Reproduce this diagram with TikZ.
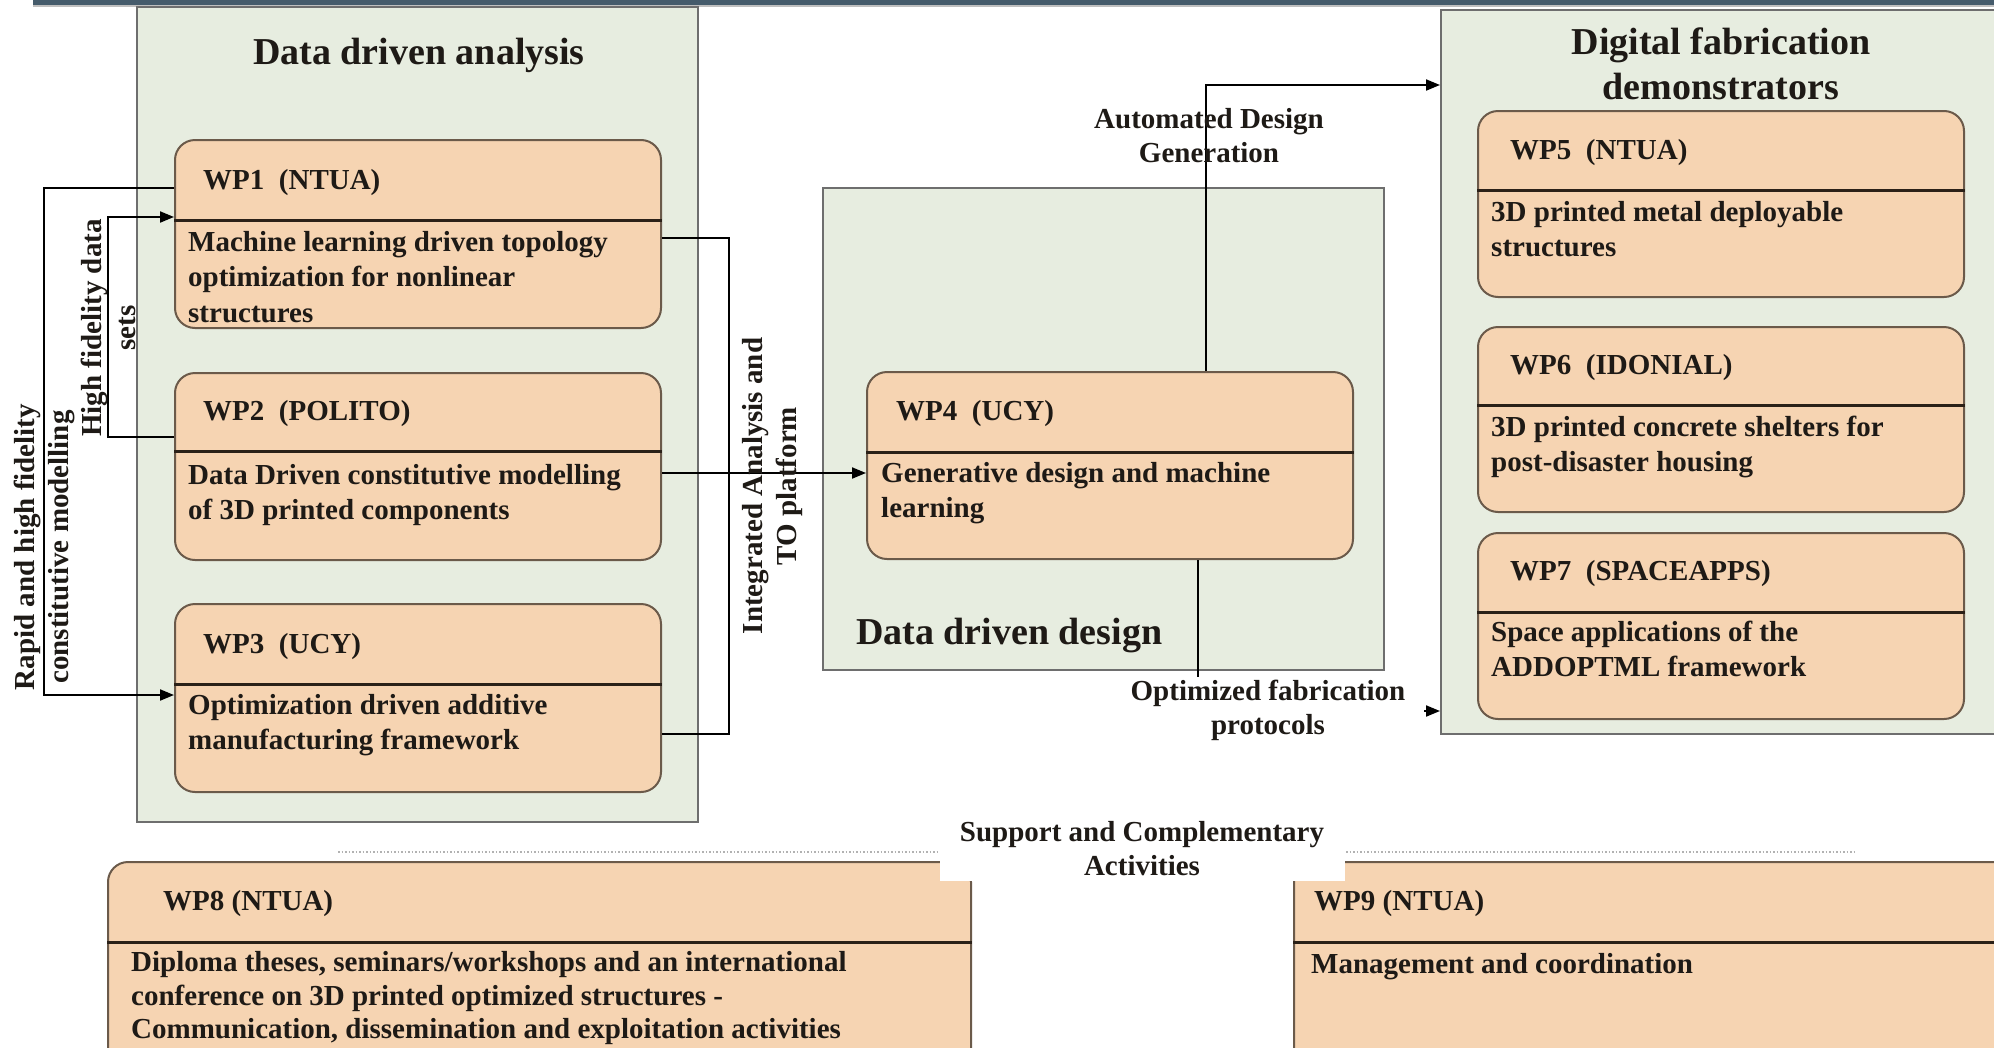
\documentclass[tikz,border=0pt]{standalone}
\usepackage{fontspec}
\setmainfont{Liberation Serif}
\usetikzlibrary{arrows.meta}

\definecolor{barcol}{HTML}{455B6B}
\definecolor{grpfill}{HTML}{E7EDE0}
\definecolor{grpline}{HTML}{6E6E6E}
\definecolor{wpfill}{HTML}{F6D4B2}
\definecolor{wpline}{HTML}{6B5A4A}
\definecolor{divcol}{HTML}{2B2118}
\definecolor{inkcol}{HTML}{1E1A16}

\newcommand{\bodyfont}{\fontsize{29}{35.5}\selectfont\bfseries}
\newcommand{\labelfont}{\fontsize{29}{34}\selectfont\bfseries}
\newcommand{\titlefont}{\fontsize{38}{45}\selectfont\bfseries}

\begin{document}
\begin{tikzpicture}[x=1pt,y=-1pt,
  group/.style={draw=grpline, line width=2pt, fill=grpfill, inner sep=0pt},
  wpbox/.style={draw=wpline, line width=2pt, fill=wpfill, rounded corners=20pt, inner sep=0pt},
  divider/.style={draw=divcol, line width=3pt},
  wphead/.style={inner sep=0pt, anchor=west, font=\bodyfont, text=inkcol},
  wpbody/.style={inner sep=0pt, anchor=north west, align=left, font=\bodyfont, text=inkcol},
  title/.style={inner sep=0pt, align=center, font=\titlefont, text=inkcol},
  flowlabel/.style={inner sep=0pt, align=center, font=\labelfont, text=inkcol},
  conn/.style={draw=black, line width=2pt},
  tip/.style={-{Triangle[length=14pt,width=11pt]}}
]
\clip (0,0) rectangle (1994,1047);
\fill[white] (0,0) rectangle (1994,1047);

% header strip
\fill[barcol] (33,0) rectangle (1994,5);
\fill[black!25] (33,5) rectangle (1994,7);

% group panels
\node[group, minimum width=561pt, minimum height=815pt] (gA) at (417.5,414.5) {};
\node[group, minimum width=561pt, minimum height=482pt] (gD) at (1103.5,429) {};
\node[group, minimum width=579pt, minimum height=724pt] (gF) at (1730.5,372) {};

\node[title] (tA) at (419,55) {Data driven analysis};
\node[title] (tF) at (1721,64) {Digital fabrication\\demonstrators};
\node[title, anchor=west] (tD) at (856,636) {Data driven design};

% work packages: data driven analysis
\node[wpbox, minimum width=486pt, minimum height=188pt] (wp1) at (418,234) {};
\draw[divider] (wp1.west |- 0,220) -- (wp1.east |- 0,220);
\node[wphead] (wp1h) at (203,183) {WP1~~(NTUA)};
\node[wpbody] (wp1b) at (188,226) {\strut Machine learning driven topology\\optimization for nonlinear\\structures};

\node[wpbox, minimum width=486pt, minimum height=187pt] (wp2) at (418,466.5) {};
\draw[divider] (wp2.west |- 0,451) -- (wp2.east |- 0,451);
\node[wphead] (wp2h) at (203,414) {WP2~~(POLITO)};
\node[wpbody] (wp2b) at (188,459) {\strut Data Driven constitutive modelling\\of 3D printed components};

\node[wpbox, minimum width=486pt, minimum height=188pt] (wp3) at (418,698) {};
\draw[divider] (wp3.west |- 0,684) -- (wp3.east |- 0,684);
\node[wphead] (wp3h) at (203,647) {WP3~~(UCY)};
\node[wpbody] (wp3b) at (188,689) {\strut Optimization driven additive\\manufacturing framework};

% work package: data driven design
\node[wpbox, minimum width=486pt, minimum height=187pt] (wp4) at (1110,465.5) {};
\draw[divider] (wp4.west |- 0,452) -- (wp4.east |- 0,452);
\node[wphead] (wp4h) at (896,414) {WP4~~(UCY)};
\node[wpbody] (wp4b) at (881,457) {\strut Generative design and machine\\learning};

% work packages: digital fabrication demonstrators
\node[wpbox, minimum width=486pt, minimum height=186pt] (wp5) at (1721,204) {};
\draw[divider] (wp5.west |- 0,190) -- (wp5.east |- 0,190);
\node[wphead] (wp5h) at (1510,153) {WP5~~(NTUA)};
\node[wpbody] (wp5b) at (1491,196) {\strut 3D printed metal deployable\\structures};

\node[wpbox, minimum width=486pt, minimum height=185pt] (wp6) at (1721,419.5) {};
\draw[divider] (wp6.west |- 0,405) -- (wp6.east |- 0,405);
\node[wphead] (wp6h) at (1510,368) {WP6~~(IDONIAL)};
\node[wpbody] (wp6b) at (1491,411) {\strut 3D printed concrete shelters for\\post-disaster housing};

\node[wpbox, minimum width=486pt, minimum height=186pt] (wp7) at (1721,626) {};
\draw[divider] (wp7.west |- 0,612) -- (wp7.east |- 0,612);
\node[wphead] (wp7h) at (1510,574) {WP7~~(SPACEAPPS)};
\node[wpbody] (wp7b) at (1491,616) {\strut Space applications of the\\ADDOPTML framework};

% support and complementary activities
\draw[black!30, line width=1.5pt, dotted] (338,852) -- (1855,852);
\node[wpbox, minimum width=863pt, minimum height=238pt] (wp8) at (539.5,981) {};
\draw[divider] (wp8.west |- 0,942) -- (wp8.east |- 0,942);
\node[wphead] (wp8h) at (163,904) {WP8 (NTUA)};
\node[wpbody, font=\fontsize{29}{33.5}\selectfont\bfseries] (wp8b) at (131,948) {\strut Diploma theses, seminars/workshops and an international\\conference on 3D printed optimized structures -\\Communication, dissemination and exploitation activities};

\node[wpbox, minimum width=806pt, minimum height=238pt] (wp9) at (1697,981) {};
\draw[divider] (wp9.west |- 0,942) -- (wp9.east |- 0,942);
\node[wphead] (wp9h) at (1314,904) {WP9 (NTUA)};
\node[wpbody] (wp9b) at (1311,948) {\strut Management and coordination};

\node[flowlabel, fill=white, minimum width=405pt, minimum height=63pt] (sup) at (1142,849) {Support and Complementary\\Activities};

% connectors
\draw[conn, tip] (wp1.west |- 0,188) -- (44,188) -- (44,695) -- (wp3.west |- 0,695);
\draw[conn, tip] (wp2.west |- 0,437) -- (108,437) -- (108,217) -- (wp1.west |- 0,217);
\draw[conn] (wp1.east |- 0,238) -- (729,238) -- (729,734) -- (wp3.east |- 0,734);
\draw[conn, tip] (wp2.east |- 0,473) -- (wp4.west |- 0,473);
\draw[conn, tip] (wp4.north -| 1206,0) -- (1206,85) -- (gF.west |- 0,85);
\draw[conn, tip] (wp4.south -| 1198,0) -- (1198,711) -- (gF.west |- 0,711);

% connector labels
\node[flowlabel, rotate=90] (lRapid) at (44,547) {Rapid and high fidelity\\constitutive modelling};
\node[flowlabel, rotate=90] (lHigh) at (108,328) {High fidelity data\\sets};
\node[flowlabel, rotate=90] (lInt) at (773,486) {Integrated Analysis and\\TO platform};
\node[flowlabel] (lAuto) at (1209,136) {Automated Design\\Generation};
\node[flowlabel, fill=white, minimum width=312pt, minimum height=66pt] (lOpt) at (1268,710) {Optimized fabrication\\protocols};
\end{tikzpicture}
\end{document}
